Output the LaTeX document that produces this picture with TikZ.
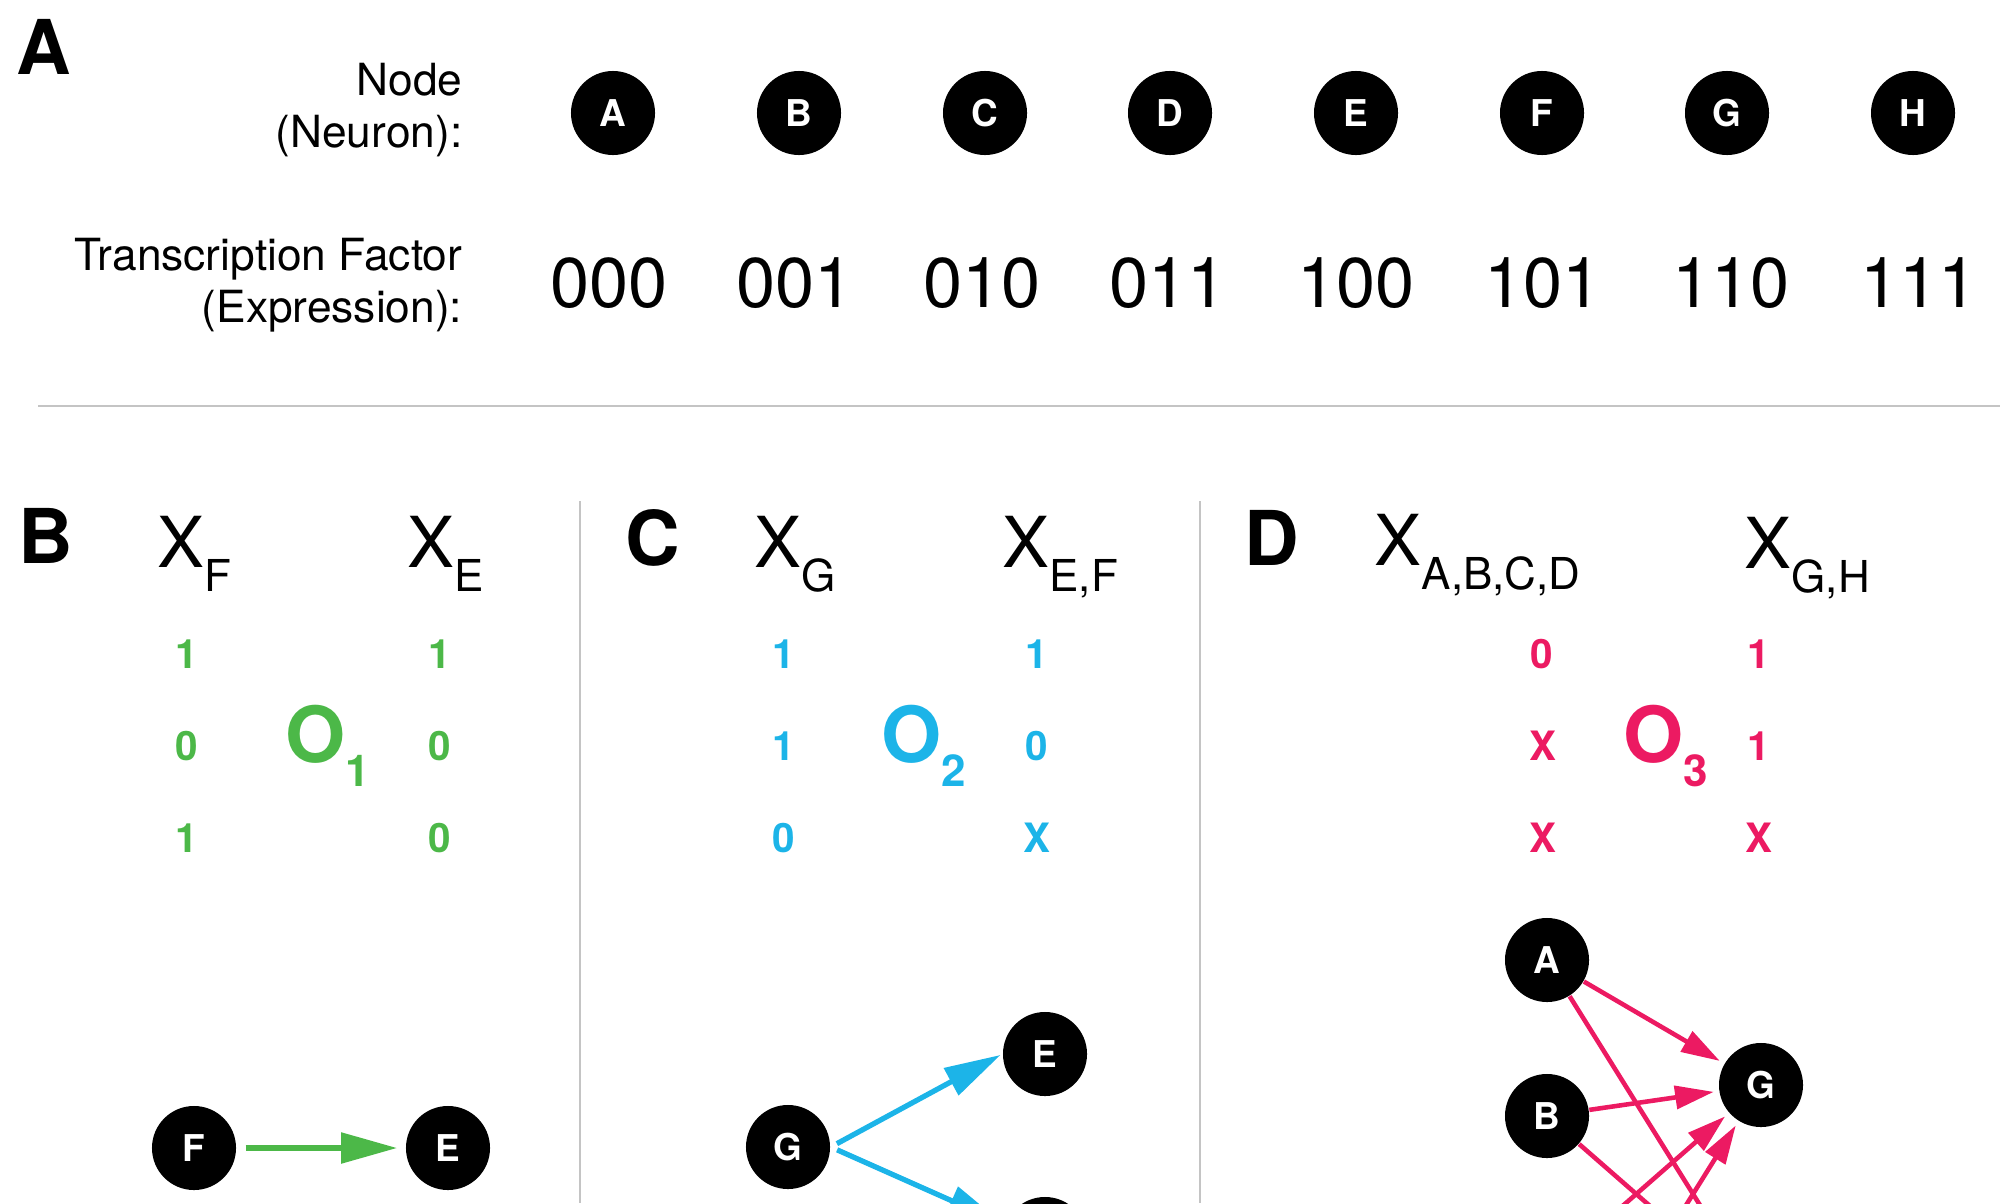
\documentclass[tikz,border=0pt]{standalone}
\usepackage{fontspec}
\setmainfont{TeX Gyre Heros}
\usetikzlibrary{arrows.meta}
\definecolor{opgreen}{HTML}{4CB848}
\definecolor{opcyan}{HTML}{1CB4E8}
\definecolor{oppink}{HTML}{EC1A62}
\definecolor{rulegray}{HTML}{C4C4C4}
\newcommand{\xlab}[1]{{\fontsize{20}{24}\selectfont X}\raisebox{-7pt}{\fontsize{12.5}{15}\selectfont #1}}
\newcommand{\olab}[1]{{\fontsize{22}{26}\selectfont\bfseries O}\raisebox{-7pt}{\fontsize{12.5}{15}\selectfont\bfseries #1}}
\begin{document}
\begin{tikzpicture}[x=0.01cm, y=-0.01cm,
  neuron/.style={circle,fill=black,text=white,minimum size=0.84cm,inner sep=0pt,font=\fontsize{10.5}{12}\selectfont\bfseries},
  panel label/.style={inner sep=0pt,font=\fontsize{21.5}{24}\selectfont\bfseries},
  row label/.style={inner sep=0pt,anchor=east,align=right,font=\fontsize{12.6}{14.8}\selectfont},
  code/.style={inner sep=0pt,font=\fontsize{20}{24}\selectfont},
  xhead/.style={inner sep=0pt,anchor=base west},
  val/.style={inner sep=0pt,font=\fontsize{11.5}{13}\selectfont\bfseries},
  rule line/.style={draw=rulegray,line width=0.6pt},
  green arrow/.style={draw=opgreen,line width=1.7pt,-{Triangle[length=16pt,width=8.5pt]},shorten <=0.09cm,shorten >=0.08cm},
  cyan arrow/.style={draw=opcyan,line width=1.5pt,-{Triangle[length=16pt,width=8.5pt]},shorten <=0.07cm,shorten >=0.02cm},
  pink arrow/.style={draw=oppink,line width=1.3pt,-{Triangle[length=11pt,width=6.5pt]},shorten >=0.05cm},
  pink line/.style={draw=oppink,line width=1.3pt}]
\useasboundingbox (0,0) rectangle (2000,1203);
\clip (0,0) rectangle (2000,1203);
% A
\node[panel label] (lA) at (44,47) {A};
\node[row label] (neuronlab) at (463,110) {Node\\(Neuron):};
\node[row label] (tflab) at (463,285) {Transcription Factor\\(Expression):};
\node[neuron] (nA) at (613,113) {A};
\node[neuron] (nB) at (799,113) {B};
\node[neuron] (nC) at (985,113) {C};
\node[neuron] (nD) at (1170,113) {D};
\node[neuron] (nE) at (1356,113) {E};
\node[neuron] (nF) at (1542,113) {F};
\node[neuron] (nG) at (1727,113) {G};
\node[neuron] (nH) at (1913,113) {H};
\node[code] (tA) at (609,283) {000};
\node[code] (tB) at (795,283) {001};
\node[code] (tC) at (982,283) {010};
\node[code] (tD) at (1168,283) {011};
\node[code] (tE) at (1356,283) {100};
\node[code] (tF) at (1543,283) {101};
\node[code] (tG) at (1731,283) {110};
\node[code] (tH) at (1919,283) {111};
\draw[rule line] (38,406) -- (2000,406);
\draw[rule line] (580,501) -- (580,1203);
\draw[rule line] (1200,501) -- (1200,1203);
% B
\begin{scope}[every node/.append style={text=opgreen}]
\node[panel label,text=black] (lB) at (46,536) {B};
\node[xhead,text=black] (bxF) at (157,567) {\xlab{F}};
\node[xhead,text=black] (bxE) at (407,567) {\xlab{E}};
\node[val] (b11) at (187,654) {1};
\node[val] (b21) at (187,746) {0};
\node[val] (b31) at (187,838) {1};
\node[val] (b12) at (440,654) {1};
\node[val] (b22) at (440,746) {0};
\node[val] (b32) at (440,838) {0};
\node[xhead] (bO) at (285,762) {\olab{1}};
\end{scope}
\node[neuron] (bF) at (194,1148) {F};
\node[neuron] (bE) at (448,1148) {E};
\draw[green arrow] (bF) -- (bE);
% C
\begin{scope}[every node/.append style={text=opcyan}]
\node[panel label,text=black] (lC) at (653,538) {C};
\node[xhead,text=black] (cxG) at (754,567) {\xlab{G}};
\node[xhead,text=black] (cxEF) at (1002,567) {\xlab{E,F}};
\node[val] (c11) at (784,654) {1};
\node[val] (c21) at (784,746) {1};
\node[val] (c31) at (784,838) {0};
\node[val] (c12) at (1037,654) {1};
\node[val] (c22) at (1037,746) {0};
\node[val] (c32) at (1037,838) {X};
\node[xhead] (cO) at (881,762) {\olab{2}};
\end{scope}
\node[neuron] (cG) at (788,1147) {G};
\node[neuron] (cE) at (1045,1054) {E};
\node[neuron] (cF) at (1045,1239) {};
\draw[cyan arrow] (cG.east) -- (cE.west);
\draw[cyan arrow] (cG.east) -- (cF.160);
% D
\begin{scope}[every node/.append style={text=oppink}]
\node[panel label,text=black] (lD) at (1272,538) {D};
\node[xhead,text=black] (dxABCD) at (1374,565) {\xlab{A,B,C,D}};
\node[xhead,text=black] (dxGH) at (1744,568) {\xlab{G,H}};
\node[val] (d11) at (1542,654) {0};
\node[val] (d21) at (1543,746) {X};
\node[val] (d31) at (1543,838) {X};
\node[val] (d12) at (1759,654) {1};
\node[val] (d22) at (1759,746) {1};
\node[val] (d32) at (1759,838) {X};
\node[xhead] (dO) at (1623,762) {\olab{3}};
\end{scope}
\node[neuron] (dA) at (1547,960) {A};
\node[neuron] (dB) at (1547,1116) {B};
\node[neuron] (dG) at (1761,1085) {G};
\coordinate (dC) at (1547,1272);
\coordinate (dD) at (1547,1428);
\coordinate (dH) at (1761,1303);
\draw[pink arrow] (dA) -- (dG);
\draw[pink arrow] (dB) -- (dG);
\draw[pink arrow] (dC) -- (dG);
\draw[pink arrow] (dD) -- (dG);
\draw[pink line] (dA) -- (dH);
\draw[pink line] (dB) -- (dH);
\end{tikzpicture}
\end{document}
